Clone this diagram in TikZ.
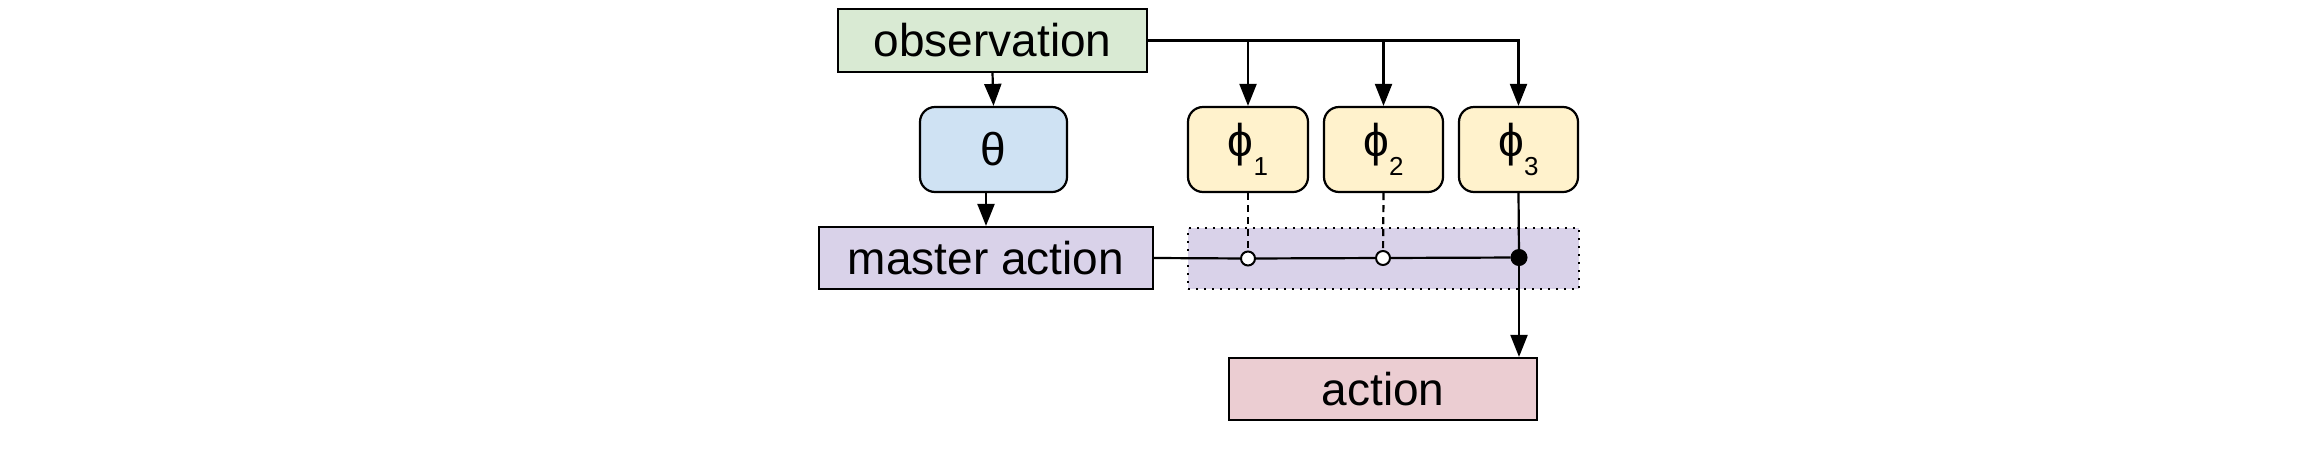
\documentclass[tikz,border=0pt]{standalone}
\usepackage{fontspec}
\setmainfont{Liberation Sans}
\usetikzlibrary{arrows.meta}
\definecolor{obsgreen}{HTML}{D9EAD3}
\definecolor{thetablue}{HTML}{CFE2F3}
\definecolor{phiyellow}{HTML}{FFF2CC}
\definecolor{masterpurple}{HTML}{D9D2E9}
\definecolor{actionpink}{HTML}{EBCDD2}
\begin{document}
\begin{tikzpicture}[x=1pt,y=-1pt,
  every node/.style={font=\fontsize{46}{55}\selectfont, inner sep=0pt, line width=2.2pt},
  sqbox/.style={draw, rectangle},
  rbox/.style={draw, rectangle, rounded corners=15pt, minimum height=85pt},
  conn/.style={line width=2.2pt},
  arr/.style={conn, -{Triangle[width=17pt,length=22pt]}},
  odot/.style={draw, circle, fill=white, minimum size=14pt, line width=2pt},
  bdot/.style={draw, circle, fill=black, minimum size=16pt, line width=1pt},
]
\useasboundingbox (0,0) rectangle (2301,467);

\node[sqbox, fill=obsgreen, minimum width=309pt, minimum height=63pt] (obs) at (992.5,40.5) {observation};
\node[rbox, fill=thetablue, minimum width=147pt] (theta) at (993.5,149.5) {θ};
\node[rbox, fill=phiyellow, minimum width=120pt] (phi1) at (1248,149.5) {ϕ\raisebox{-0.42em}{\fontsize{26}{26}\selectfont 1}};
\node[rbox, fill=phiyellow, minimum width=119pt] (phi2) at (1383.5,149.5) {ϕ\raisebox{-0.42em}{\fontsize{26}{26}\selectfont 2}};
\node[rbox, fill=phiyellow, minimum width=119pt] (phi3) at (1518.5,149.5) {ϕ\raisebox{-0.42em}{\fontsize{26}{26}\selectfont 3}};
\node[sqbox, fill=masterpurple, minimum width=334pt, minimum height=62pt] (master) at (986,258) {master action};
\node[draw, fill=masterpurple, line width=2pt, dash pattern=on 2pt off 6pt, minimum width=391pt, minimum height=61pt] (region) at (1383.5,258.5) {};
\node[sqbox, fill=actionpink, minimum width=308pt, minimum height=62pt] (action) at (1383,389) {action};

\node[odot] (c1) at (1248,258.5) {};
\node[odot] (c2) at (1383,258) {};
\node[bdot] (c3) at (1519,257.5) {};

% observation to policies
\draw[arr] (obs.south) -- (theta.north);
\draw[arr] (obs.east) -| (phi3.north);
\draw[arr] (phi1.north |- obs.east) -- (phi1.north);
\draw[arr] (phi2.north |- obs.east) -- (phi2.north);

% theta to master action
\draw[arr] (theta.south -| master.north) -- (master.north);

% selection line
\draw[conn] (master.east) -- (c1);
\draw[conn] (c1) -- (c2);
\draw[conn] (c2) -- (c3);
\draw[conn, dash pattern=on 7pt off 5pt] (phi1.south) -- (c1);
\draw[conn, dash pattern=on 7pt off 5pt] (phi2.south) -- (c2);
\draw[conn] (phi3.south) -- (c3);
\draw[arr] (c3) -- (c3 |- action.north);
\end{tikzpicture}
\end{document}
